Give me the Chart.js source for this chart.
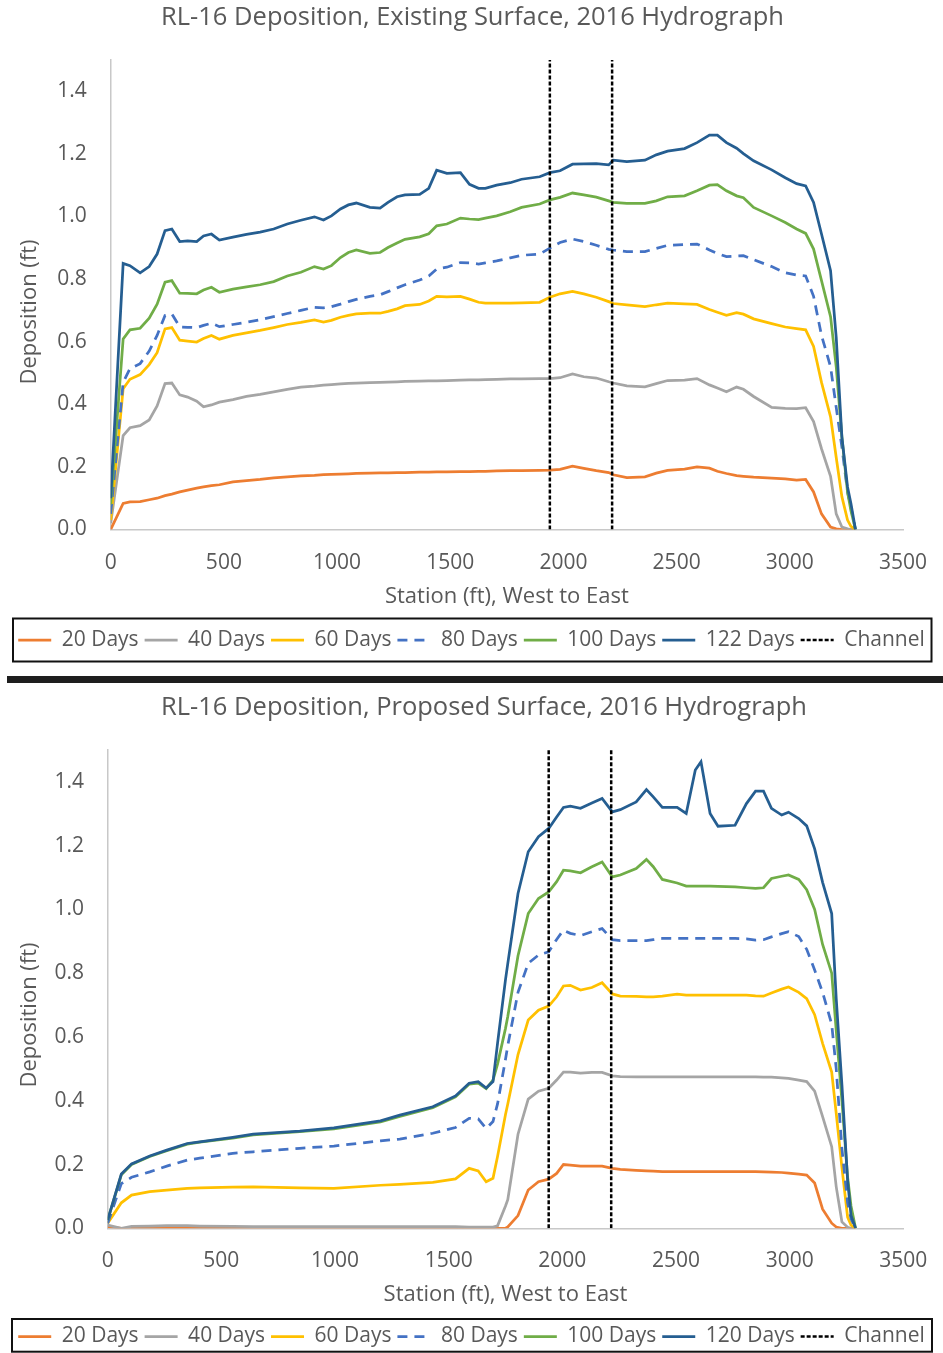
<!DOCTYPE html>
<html>
<head>
<meta charset="utf-8">
<title>RL-16 Deposition</title>
<script src="https://cdn.jsdelivr.net/npm/chart.js@4.4.1/dist/chart.umd.min.js"></script>
<style>
  html, body { margin: 0; padding: 0; background: #fff; overflow: hidden; }
  body { width: 943px; height: 1353px; position: relative; }
  canvas { display: block; }
  .panel { position: absolute; left: 0; width: 943px; }
  #top { top: 0; height: 676px; }
  #bottom { top: 683px; height: 674px; }
  #divider { position: absolute; left: 7px; top: 676px; width: 936px; height: 7px; background: #1e1e1e; }
</style>
</head>
<body>
<div class="panel" id="top"><canvas id="existing" width="943" height="676"></canvas></div>
<div id="divider"></div>
<div class="panel" id="bottom"><canvas id="proposed" width="943" height="674"></canvas></div>
<script>
// Existing surface: stations (ft) and deposition (ft) per run length
var topStations = [0, 55, 85, 130, 170, 205, 240, 270, 305, 340,
  380, 410, 445, 480, 540, 600, 660, 720, 780, 840,
  900, 940, 975, 1015, 1050, 1085, 1145, 1190, 1225, 1265,
  1300, 1365, 1405, 1440, 1485, 1545, 1585, 1625, 1655, 1705,
  1765, 1815, 1895, 1940, 1985, 2040, 2090, 2145, 2200, 2220,
  2280, 2360, 2410, 2460, 2535, 2590, 2645, 2680, 2720, 2765,
  2795, 2840, 2920, 2980, 3030, 3070, 3105, 3140, 3180, 3205,
  3230, 3255, 3270, 3290];
var top20 = [0, 0.083, 0.088, 0.089, 0.095, 0.10, 0.108, 0.113, 0.12, 0.126,
  0.132, 0.136, 0.14, 0.143, 0.152, 0.156, 0.16, 0.165, 0.168, 0.171,
  0.173, 0.175, 0.176, 0.177, 0.178, 0.179, 0.18, 0.181, 0.181, 0.182,
  0.182, 0.183, 0.183, 0.184, 0.184, 0.185, 0.185, 0.186, 0.186, 0.187,
  0.188, 0.188, 0.189, 0.19, 0.192, 0.202, 0.195, 0.188, 0.182, 0.175,
  0.166, 0.168, 0.18, 0.189, 0.193, 0.2, 0.196, 0.186, 0.179, 0.172,
  0.17, 0.167, 0.164, 0.162, 0.158, 0.16, 0.12, 0.05, 0.008, 0.002,
  0, 0, 0, 0];
var top40 = [0.02, 0.30, 0.325, 0.332, 0.35, 0.395, 0.466, 0.468, 0.43, 0.423,
  0.41, 0.392, 0.398, 0.407, 0.415, 0.425, 0.432, 0.44, 0.448, 0.455,
  0.458, 0.461, 0.463, 0.465, 0.467, 0.468, 0.469, 0.47, 0.471, 0.472,
  0.473, 0.474, 0.475, 0.475, 0.476, 0.477, 0.478, 0.478, 0.479, 0.48,
  0.481, 0.481, 0.482, 0.482, 0.485, 0.497, 0.488, 0.484, 0.472, 0.468,
  0.459, 0.456, 0.466, 0.476, 0.477, 0.482, 0.462, 0.452, 0.44, 0.455,
  0.448, 0.425, 0.39, 0.387, 0.386, 0.389, 0.345, 0.258, 0.17, 0.05,
  0.008, 0.002, 0, 0];
var top60 = [0.03, 0.45, 0.48, 0.495, 0.527, 0.565, 0.641, 0.645, 0.605, 0.602,
  0.599, 0.61, 0.62, 0.608, 0.62, 0.628, 0.636, 0.645, 0.655, 0.662,
  0.67, 0.663, 0.668, 0.678, 0.684, 0.689, 0.691, 0.691, 0.697, 0.705,
  0.715, 0.719, 0.73, 0.745, 0.743, 0.745, 0.736, 0.726, 0.723, 0.723,
  0.723, 0.724, 0.726, 0.742, 0.753, 0.761, 0.753, 0.742, 0.728, 0.722,
  0.718, 0.712, 0.718, 0.723, 0.721, 0.719, 0.703, 0.694, 0.684, 0.693,
  0.688, 0.673, 0.658, 0.647, 0.642, 0.638, 0.585, 0.47, 0.36, 0.23,
  0.105, 0.03, 0.01, 0];
var top80 = [0.05, 0.47, 0.514, 0.53, 0.57, 0.62, 0.684, 0.689, 0.647, 0.646,
  0.645, 0.652, 0.659, 0.648, 0.655, 0.662, 0.67, 0.68, 0.69, 0.70,
  0.71, 0.708, 0.712, 0.72, 0.728, 0.735, 0.745, 0.75, 0.76, 0.772,
  0.782, 0.797, 0.81, 0.832, 0.838, 0.853, 0.852, 0.848, 0.852, 0.858,
  0.868, 0.876, 0.88, 0.899, 0.917, 0.928, 0.92, 0.908, 0.895, 0.893,
  0.888, 0.888, 0.898, 0.908, 0.91, 0.912, 0.893, 0.882, 0.872, 0.874,
  0.875, 0.862, 0.84, 0.82, 0.813, 0.81, 0.745, 0.62, 0.52, 0.39,
  0.264, 0.12, 0.07, 0];
var top100 = [0.08, 0.609, 0.638, 0.643, 0.675, 0.72, 0.79, 0.795, 0.755, 0.754,
  0.753, 0.765, 0.774, 0.758, 0.768, 0.775, 0.782, 0.792, 0.81, 0.822,
  0.84, 0.832, 0.843, 0.869, 0.885, 0.893, 0.882, 0.885, 0.901, 0.915,
  0.927, 0.935, 0.945, 0.97, 0.976, 0.995, 0.992, 0.99, 0.995, 1.002,
  1.015, 1.029, 1.04, 1.053, 1.061, 1.075, 1.069, 1.062, 1.05, 1.045,
  1.042, 1.042, 1.05, 1.063, 1.066, 1.082, 1.1, 1.102, 1.082, 1.066,
  1.06, 1.029, 1.002, 0.981, 0.96, 0.946, 0.896, 0.795, 0.68, 0.52,
  0.296, 0.12, 0.06, 0];
var top122 = [0.10, 0.85, 0.843, 0.82, 0.84, 0.88, 0.955, 0.96, 0.92, 0.922,
  0.92, 0.938, 0.944, 0.925, 0.934, 0.943, 0.95, 0.96, 0.976, 0.988,
  0.999, 0.989, 1.002, 1.024, 1.037, 1.043, 1.029, 1.027, 1.045, 1.063,
  1.069, 1.071, 1.09, 1.148, 1.138, 1.14, 1.103, 1.09, 1.09, 1.10,
  1.108, 1.119, 1.127, 1.14, 1.146, 1.167, 1.168, 1.169, 1.165, 1.18,
  1.175, 1.18, 1.197, 1.209, 1.217, 1.236, 1.26, 1.26, 1.236, 1.218,
  1.201, 1.178, 1.149, 1.124, 1.105, 1.098, 1.045, 0.944, 0.827, 0.614,
  0.296, 0.136, 0.083, 0];
var topNames = ['20 Days', '40 Days', '60 Days', '80 Days', '100 Days', '122 Days'];

// Proposed surface
var botStations = [0, 60, 105, 185, 260, 350, 405, 550, 640, 845,
  995, 1200, 1285, 1430, 1530, 1590, 1630, 1665, 1695, 1715,
  1750, 1760, 1805, 1850, 1895, 1940, 1975, 2005, 2035, 2080,
  2130, 2175, 2220, 2255, 2325, 2370, 2400, 2440, 2505, 2545,
  2585, 2610, 2650, 2685, 2760, 2810, 2850, 2885, 2920, 2965,
  2995, 3040, 3075, 3110, 3145, 3185, 3205, 3230, 3255, 3270,
  3290];
var bot20 = [0.005, 0, 0, 0, 0, 0, 0, 0, 0, 0,
  0, 0, 0, 0, 0, 0, 0, 0, 0, 0,
  0, 0.004, 0.04, 0.12, 0.146, 0.154, 0.172, 0.2, 0.198, 0.195,
  0.195, 0.195, 0.188, 0.185, 0.182, 0.18, 0.179, 0.178, 0.178, 0.178,
  0.178, 0.178, 0.178, 0.178, 0.178, 0.178, 0.178, 0.177, 0.176, 0.175,
  0.173, 0.17, 0.167, 0.142, 0.06, 0.016, 0.004, 0, 0, 0,
  0];
var bot40 = [0.01, 0, 0.006, 0.007, 0.008, 0.008, 0.007, 0.006, 0.005, 0.005,
  0.005, 0.005, 0.005, 0.005, 0.005, 0.004, 0.004, 0.004, 0.004, 0.008,
  0.07, 0.09, 0.295, 0.405, 0.43, 0.439, 0.465, 0.49, 0.49, 0.487,
  0.489, 0.489, 0.478, 0.476, 0.475, 0.475, 0.475, 0.475, 0.475, 0.475,
  0.475, 0.475, 0.475, 0.475, 0.475, 0.475, 0.475, 0.474, 0.474, 0.472,
  0.47, 0.465, 0.46, 0.43, 0.35, 0.256, 0.13, 0.02, 0.003, 0,
  0];
var bot60 = [0.016, 0.08, 0.104, 0.115, 0.12, 0.125, 0.127, 0.129, 0.13, 0.127,
  0.125, 0.135, 0.138, 0.144, 0.155, 0.188, 0.18, 0.146, 0.157, 0.225,
  0.357, 0.39, 0.545, 0.653, 0.684, 0.697, 0.726, 0.76, 0.762, 0.747,
  0.755, 0.77, 0.735, 0.728, 0.727, 0.726, 0.726, 0.728, 0.734, 0.731,
  0.731, 0.731, 0.731, 0.731, 0.731, 0.731, 0.729, 0.728, 0.738, 0.75,
  0.757, 0.74, 0.72, 0.67, 0.58, 0.49, 0.36, 0.19, 0.035, 0.01,
  0];
var bot80 = [0.016, 0.14, 0.16, 0.177, 0.195, 0.214, 0.22, 0.235, 0.24, 0.251,
  0.258, 0.274, 0.28, 0.298, 0.316, 0.345, 0.343, 0.313, 0.335, 0.39,
  0.53, 0.573, 0.74, 0.831, 0.857, 0.867, 0.906, 0.935, 0.925, 0.918,
  0.93, 0.94, 0.905, 0.902, 0.902, 0.902, 0.905, 0.909, 0.909, 0.909,
  0.909, 0.909, 0.909, 0.909, 0.909, 0.908, 0.904, 0.905, 0.914, 0.924,
  0.93, 0.915, 0.875, 0.81, 0.74, 0.64, 0.50, 0.25, 0.08, 0.03,
  0];
var bot100 = [0.026, 0.168, 0.2, 0.225, 0.243, 0.264, 0.27, 0.283, 0.293, 0.303,
  0.312, 0.334, 0.351, 0.378, 0.412, 0.452, 0.455, 0.438, 0.465, 0.515,
  0.627, 0.664, 0.855, 0.987, 1.034, 1.055, 1.087, 1.123, 1.121, 1.115,
  1.134, 1.149, 1.102, 1.108, 1.128, 1.157, 1.134, 1.094, 1.083, 1.073,
  1.073, 1.073, 1.073, 1.072, 1.071, 1.068, 1.066, 1.068, 1.097, 1.104,
  1.108, 1.094, 1.062, 1.0, 0.89, 0.80, 0.62, 0.40, 0.16, 0.07,
  0];
var bot120 = [0.026, 0.17, 0.202, 0.227, 0.245, 0.266, 0.271, 0.285, 0.295, 0.305,
  0.315, 0.337, 0.355, 0.381, 0.415, 0.455, 0.46, 0.44, 0.46, 0.58,
  0.78, 0.83, 1.05, 1.181, 1.228, 1.254, 1.29, 1.32, 1.324, 1.317,
  1.334, 1.348, 1.306, 1.313, 1.337, 1.376, 1.353, 1.32, 1.32, 1.301,
  1.437, 1.463, 1.301, 1.261, 1.264, 1.332, 1.371, 1.371, 1.317, 1.296,
  1.305, 1.285, 1.262, 1.19, 1.085, 0.987, 0.72, 0.45, 0.15, 0.04,
  0];
var botNames = ['20 Days', '40 Days', '60 Days', '80 Days', '100 Days', '120 Days'];

// channel banks (ft)
var channel = [1940, 2215];

var seriesColors = ['#ED7D31', '#A5A5A5', '#FFC000', '#4472C4', '#70AD47', '#255E91'];
var textColor = '#595959';
var yMax = 1.5;

Chart.defaults.font.family = "'Open Sans', sans-serif";
Chart.defaults.color = textColor;

function points(xs, ys) {
  return xs.map(function (x, i) { return { x: x, y: ys[i] }; });
}

function makeDatasets(stations, series, names) {
  var sets = series.map(function (vals, i) {
    return {
      label: names[i],
      data: points(stations, vals),
      borderColor: seriesColors[i],
      backgroundColor: seriesColors[i],
      borderWidth: 2.75,
      borderDash: i === 3 ? [10, 7] : [],
      pointRadius: 0,
      tension: 0,
      order: series.length - i
    };
  });
  var bank = [];
  channel.forEach(function (x) {
    bank.push({ x: x, y: 0 }, { x: x, y: yMax }, { x: x, y: null });
  });
  sets.push({
    label: 'Channel',
    data: bank,
    borderColor: '#000',
    backgroundColor: '#000',
    borderWidth: 2.5,
    borderDash: [4, 2],
    pointRadius: 0,
    order: 0
  });
  return sets;
}

// legend samples take the line style of their dataset, not of its points
function lineLabels(chart) {
  var items = Chart.defaults.plugins.legend.labels.generateLabels(chart);
  items.forEach(function (it) {
    var ds = chart.data.datasets[it.datasetIndex];
    it.lineWidth = ds.borderWidth;
    it.lineDash = ds.borderDash;
    it.strokeStyle = ds.borderColor;
  });
  return items.sort(function (a, b) { return a.datasetIndex - b.datasetIndex; });
}

// legend frame, y axis title and title nudge, as in the Excel original
var decorations = {
  id: 'decorations',
  afterLayout: function (chart, args, opts) {
    if (opts.titleShift) chart.titleBlock.left += opts.titleShift * 2;
  },
  afterDraw: function (chart, args, opts) {
    var ctx = chart.ctx;
    var b = opts.box;
    ctx.save();
    ctx.strokeStyle = '#111';
    ctx.lineWidth = 2;
    ctx.strokeRect(b.left, b.top, b.right - b.left, b.bottom - b.top);
    ctx.translate(opts.yTitleX, opts.yTitleY);
    ctx.rotate(-Math.PI / 2);
    ctx.font = "22px 'Open Sans', sans-serif";
    ctx.fillStyle = textColor;
    ctx.textAlign = 'center';
    ctx.textBaseline = 'middle';
    ctx.fillText('Deposition (ft)', 0, 0);
    ctx.restore();
  }
};

function buildChart(id, title, stations, series, names, lay) {
  return new Chart(document.getElementById(id), {
    type: 'line',
    data: { datasets: makeDatasets(stations, series, names) },
    options: {
      responsive: false,
      animation: false,
      devicePixelRatio: 1,
      layout: { padding: { top: 0, left: 0, right: 0, bottom: lay.padBottom } },
      plugins: {
        title: {
          display: true,
          text: title,
          color: textColor,
          font: { size: 25.5, weight: 'normal' },
          padding: { top: lay.titleTop, bottom: lay.titleBottom }
        },
        legend: {
          position: 'bottom',
          labels: {
            usePointStyle: true,
            pointStyle: 'line',
            pointStyleWidth: 33,
            padding: 6,
            color: textColor,
            font: { size: 21 },
            generateLabels: lineLabels
          }
        },
        tooltip: { enabled: false },
        decorations: {
          box: lay.box,
          yTitleX: 30,
          yTitleY: lay.yTitleY,
          titleShift: lay.titleShift
        }
      },
      scales: {
        x: {
          type: 'linear',
          min: 0,
          max: 3500,
          grid: { display: false, drawTicks: false },
          border: { display: true, color: '#C8C8C8', width: 1.5 },
          ticks: {
            stepSize: 500,
            padding: lay.xTickPad,
            maxRotation: 0,
            font: { size: 21 },
            color: textColor,
            callback: function (v) { return String(v); }
          },
          title: {
            display: true,
            text: 'Station (ft), West to East',
            color: textColor,
            font: { size: 22 },
            padding: { top: 0, bottom: lay.xTitlePad }
          },
          afterFit: function (s) {
            s.height = lay.xHeight;
            s.paddingRight = lay.padRight;
          }
        },
        y: {
          min: 0,
          max: yMax,
          grid: { display: false, drawTicks: false },
          border: { display: true, color: '#C8C8C8', width: 1.5 },
          ticks: {
            stepSize: 0.2,
            includeBounds: false,
            padding: lay.yTickPad,
            font: { size: 21 },
            color: textColor,
            callback: function (v) { return v.toFixed(1); }
          },
          afterFit: function (s) { s.width = lay.yWidth; }
        }
      }
    },
    plugins: [decorations]
  });
}

buildChart('existing', 'RL-16 Deposition, Existing Surface, 2016 Hydrograph',
  topStations, [top20, top40, top60, top80, top100, top122], topNames, {
    padBottom: 15.5, titleTop: 2.7, titleBottom: 26.7,
    xHeight: 94, xTickPad: 20.6, xTitlePad: 13.6, padRight: 40,
    yWidth: 110.7, yTickPad: 24, yTitleY: 312, titleShift: 1,
    box: { left: 13, top: 618.5, right: 931.5, bottom: 661.5 }
  });

buildChart('proposed', 'RL-16 Deposition, Proposed Surface, 2016 Hydrograph',
  botStations, [bot20, bot40, bot60, bot80, bot100, bot120], botNames, {
    padBottom: 0, titleTop: 9.7, titleBottom: 26.7,
    xHeight: 91.7, xTickPad: 19.8, xTitlePad: 11.8, padRight: 39.7,
    yWidth: 107.7, yTickPad: 23.7, yTitleY: 332, titleShift: 12.5,
    box: { left: 12, top: 636, right: 932, bottom: 668.7 }
  });
</script>
</body>
</html>
